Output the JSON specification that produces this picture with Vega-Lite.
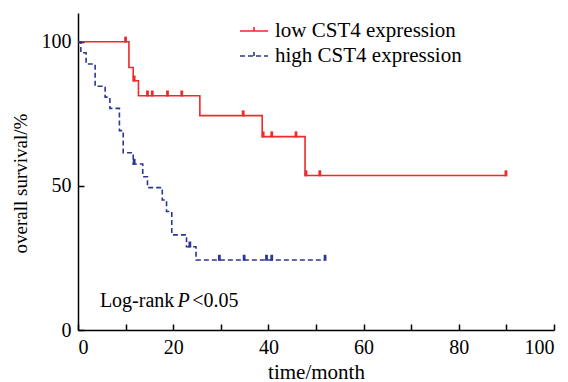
{
  "$schema": "https://vega.github.io/schema/vega-lite/v6.json",
  "width": 476,
  "height": 317,
  "autosize": {"type": "none"},
  "padding": {"left": 78, "top": 13, "right": 14, "bottom": 52},
  "background": "white",
  "config": {
    "view": {"stroke": null},
    "font": "Liberation Serif",
    "axis": {
      "grid": false,
      "domainColor": "black",
      "domainWidth": 1.5,
      "tickColor": "black",
      "tickWidth": 1.5,
      "labelFont": "Liberation Serif",
      "labelFontSize": 20,
      "labelColor": "black",
      "titleFont": "Liberation Serif",
      "titleFontSize": 20,
      "titleFontWeight": "normal",
      "titleColor": "black"
    },
    "legend": {
      "labelFont": "Liberation Serif",
      "labelFontSize": 21,
      "labelColor": "black",
      "labelLimit": 400
    }
  },
  "datasets": {
    "curves": [
      {"group": "low CST4 expression", "time": 0, "survival": 100},
      {"group": "low CST4 expression", "time": 10.7, "survival": 91.1},
      {"group": "low CST4 expression", "time": 11.6, "survival": 86.5},
      {"group": "low CST4 expression", "time": 12.7, "survival": 81.3},
      {"group": "low CST4 expression", "time": 25.6, "survival": 74.4},
      {"group": "low CST4 expression", "time": 38.7, "survival": 67.1},
      {"group": "low CST4 expression", "time": 47.7, "survival": 53.6},
      {"group": "low CST4 expression", "time": 89.9, "survival": 53.6},
      {"group": "high CST4 expression", "time": 0, "survival": 100},
      {"group": "high CST4 expression", "time": 0.6, "survival": 96.2},
      {"group": "high CST4 expression", "time": 1.7, "survival": 92.3},
      {"group": "high CST4 expression", "time": 3.6, "survival": 84.6},
      {"group": "high CST4 expression", "time": 5.7, "survival": 80.8},
      {"group": "high CST4 expression", "time": 6.7, "survival": 76.9},
      {"group": "high CST4 expression", "time": 8.7, "survival": 69.2},
      {"group": "high CST4 expression", "time": 9.5, "survival": 61.5},
      {"group": "high CST4 expression", "time": 11.6, "survival": 57.6},
      {"group": "high CST4 expression", "time": 13.6, "survival": 53.2},
      {"group": "high CST4 expression", "time": 14.6, "survival": 49.4},
      {"group": "high CST4 expression", "time": 17.7, "survival": 45.1},
      {"group": "high CST4 expression", "time": 18.6, "survival": 41.1},
      {"group": "high CST4 expression", "time": 19.7, "survival": 33.0},
      {"group": "high CST4 expression", "time": 22.8, "survival": 28.9},
      {"group": "high CST4 expression", "time": 24.8, "survival": 24.3},
      {"group": "high CST4 expression", "time": 51.9, "survival": 24.3}
    ],
    "censored": [
      {"group": "low CST4 expression", "time": 10, "survival": 100},
      {"group": "low CST4 expression", "time": 11.8, "survival": 86.5},
      {"group": "low CST4 expression", "time": 14.6, "survival": 81.3},
      {"group": "low CST4 expression", "time": 15.6, "survival": 81.3},
      {"group": "low CST4 expression", "time": 18.8, "survival": 81.3},
      {"group": "low CST4 expression", "time": 21.8, "survival": 81.3},
      {"group": "low CST4 expression", "time": 34.7, "survival": 74.4},
      {"group": "low CST4 expression", "time": 38.9, "survival": 67.1},
      {"group": "low CST4 expression", "time": 40.7, "survival": 67.1},
      {"group": "low CST4 expression", "time": 45.8, "survival": 67.1},
      {"group": "low CST4 expression", "time": 47.9, "survival": 53.6},
      {"group": "low CST4 expression", "time": 50.8, "survival": 53.6},
      {"group": "low CST4 expression", "time": 89.9, "survival": 53.6},
      {"group": "high CST4 expression", "time": 11.8, "survival": 57.6},
      {"group": "high CST4 expression", "time": 23.5, "survival": 28.9},
      {"group": "high CST4 expression", "time": 29.7, "survival": 24.3},
      {"group": "high CST4 expression", "time": 34.9, "survival": 24.3},
      {"group": "high CST4 expression", "time": 39.6, "survival": 24.3},
      {"group": "high CST4 expression", "time": 40.7, "survival": 24.3},
      {"group": "high CST4 expression", "time": 51.9, "survival": 24.3}
    ],
    "notes": [
      {"part": "Log-rank", "at": 4.6, "level": 10.1, "style": "normal"},
      {"part": "P", "at": 20.9, "level": 10.1, "style": "italic"},
      {"part": "<0.05", "at": 24.0, "level": 10.1, "style": "normal"}
    ]
  },
  "resolve": {"axis": {"x": "independent", "y": "independent"}},
  "layer": [
    {
      "data": {"name": "curves"},
      "mark": {"type": "line", "interpolate": "step-after", "strokeWidth": 1.6},
      "encoding": {
        "x": {
          "field": "time",
          "type": "quantitative",
          "scale": {"domain": [0, 100], "nice": false},
          "axis": {
            "orient": "bottom",
            "values": [0, 20, 40, 60, 80, 100],
            "ticks": false,
            "labelPadding": 7,
            "labelFont": "Liberation Serif",
            "labelFontSize": 20,
            "title": "time/month",
            "titleFontSize": 21,
            "titleY": 42,
            "titleBaseline": "middle"
          }
        },
        "y": {
          "field": "survival",
          "type": "quantitative",
          "scale": {"domain": [0, 110], "nice": false},
          "axis": {
            "orient": "left",
            "values": [0, 50, 100],
            "ticks": false,
            "labelPadding": 7,
            "labelFont": "Liberation Serif",
            "labelFontSize": 20,
            "title": "overall survival/%",
            "titleFontSize": 19,
            "titleX": -58,
            "titleY": 170,
            "titleAngle": -90,
            "titleAlign": "center",
            "titleBaseline": "middle"
          }
        },
        "color": {
          "field": "group",
          "type": "nominal",
          "scale": {"domain": ["low CST4 expression", "high CST4 expression"], "range": ["#ee2a2a", "#2b3694"]},
          "legend": {
            "title": null,
            "orient": "none",
            "legendX": 161,
            "legendY": 3,
            "padding": 0,
            "symbolType": "M-1,0H1M0,0V-0.28",
            "symbolSize": 784,
            "symbolStrokeWidth": 1.6,
            "labelOffset": 6,
            "rowPadding": 0
          }
        },
        "strokeDash": {
          "field": "group",
          "type": "nominal",
          "scale": {"domain": ["low CST4 expression", "high CST4 expression"], "range": [[1, 0], [5, 3]]},
          "legend": {
            "title": null,
            "orient": "none",
            "legendX": 161,
            "legendY": 3,
            "padding": 0,
            "symbolType": "M-1,0H1M0,0V-0.28",
            "symbolSize": 784,
            "symbolStrokeWidth": 1.6,
            "labelOffset": 6,
            "rowPadding": 0
          }
        }
      }
    },
    {
      "data": {"name": "censored"},
      "mark": {"type": "point", "filled": true, "opacity": 1, "shape": "M-0.35,0.2H0.35V-1.3H-0.35Z", "size": 64},
      "encoding": {
        "x": {
          "field": "time",
          "type": "quantitative",
          "axis": {
            "orient": "bottom",
            "values": [0, 10, 20, 30, 40, 50, 60, 70, 80, 90, 100],
            "offset": -6,
            "domain": false,
            "labels": false,
            "ticks": true,
            "tickSize": 6,
            "title": null
          }
        },
        "y": {
          "field": "survival",
          "type": "quantitative",
          "axis": {
            "orient": "left",
            "values": [0, 50, 100],
            "offset": -6,
            "domain": false,
            "labels": false,
            "ticks": true,
            "tickSize": 6,
            "title": null
          }
        },
        "color": {"field": "group", "type": "nominal", "legend": null}
      }
    },
    {
      "data": {"name": "notes"},
      "transform": [{"filter": "datum.style === 'normal'"}],
      "mark": {"type": "text", "align": "left", "baseline": "middle", "fontSize": 20, "font": "Liberation Serif", "color": "black"},
      "encoding": {
        "x": {"field": "at", "type": "quantitative", "axis": null},
        "y": {"field": "level", "type": "quantitative", "axis": null},
        "text": {"field": "part"}
      }
    },
    {
      "data": {"name": "notes"},
      "transform": [{"filter": "datum.style === 'italic'"}],
      "mark": {"type": "text", "align": "left", "baseline": "middle", "fontSize": 20, "font": "Liberation Serif", "fontStyle": "italic", "color": "black"},
      "encoding": {
        "x": {"field": "at", "type": "quantitative", "axis": null},
        "y": {"field": "level", "type": "quantitative", "axis": null},
        "text": {"field": "part"}
      }
    }
  ]
}
